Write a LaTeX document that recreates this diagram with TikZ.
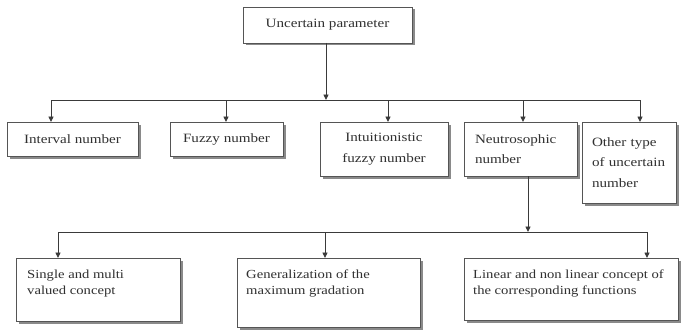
\documentclass[tikz,border=0pt]{standalone}
\usepackage{fontspec}
\setmainfont{Liberation Serif}[FakeStretch=1.19]
\usetikzlibrary{arrows.meta,shadows}
\definecolor{lncol}{HTML}{3A3A3A}
\definecolor{bdcol}{HTML}{555555}
\definecolor{shcol}{HTML}{8A8A8A}
\definecolor{txcol}{HTML}{303030}
\begin{document}
\begin{tikzpicture}[x=1pt,y=-1pt,
  box/.style={draw=bdcol, line width=0.9pt, fill=white, anchor=north west, inner sep=0pt, outer sep=0pt,
    drop shadow={shadow xshift=2.5pt, shadow yshift=-2.5pt, fill=shcol, opacity=1}},
  up/.style={font=\fontsize{12.7}{20.5}\selectfont, text=txcol},
  lo/.style={font=\fontsize{12.3}{15.5}\selectfont, text=txcol, anchor=north west, align=left, inner sep=0pt},
  con/.style={draw=lncol, line width=0.9pt},
  arr/.style={con, -{Triangle[length=5.5pt,width=5pt]}}]
\useasboundingbox[fill=white] (0,0) rectangle (682,329);

% top
\node[box, up, minimum width=169pt, minimum height=36pt] (top) at (243,7) {Uncertain parameter};

% second row
\node[box, up, minimum width=131pt, minimum height=34pt] (int) at (7,122) {Interval number};
\node[box, up, minimum width=113pt, minimum height=34pt] (fuz) at (170,122) {Fuzzy number};
\node[box, up, align=center, minimum width=128pt, minimum height=54pt] (intu) at (320,122) {Intuitionistic\\fuzzy number};
\node[box, up, align=left, text width=91pt, inner xsep=11pt, minimum height=54pt] (neu) at (464,122) {Neutrosophic\\number};
\node[box, up, align=left, text width=74pt, inner xsep=10pt, minimum height=81pt] (oth) at (582,122) {Other type\\of uncertain\\number};

% third row
\node[box, minimum width=164pt, minimum height=63pt] (sin) at (16,258) {};
\node[box, minimum width=183pt, minimum height=69pt] (gen) at (237,258) {};
\node[box, minimum width=214pt, minimum height=62pt] (lin) at (464,258) {};
\node[lo] (sint) at (27,270) {Single and multi\\valued concept};
\node[lo] (gent) at (246,270) {Generalization of the\\maximum gradation};
\node[lo] (lint) at (473,270) {Linear and non linear concept of\\the corresponding functions};

% connectors level 1
\coordinate (j0) at (326,100);
\coordinate (a1) at (51,100);
\coordinate (a2) at (226,100);
\coordinate (a3) at (388,100);
\coordinate (a4) at (523,100);
\coordinate (a5) at (640,100);
\draw[arr] (top.south -| j0) -- (j0);
\draw[con] (a1) -- (a5);
\draw[arr] (a1) -- (a1 |- int.north);
\draw[arr] (a2) -- (a2 |- fuz.north);
\draw[arr] (a3) -- (a3 |- intu.north);
\draw[arr] (a4) -- (a4 |- neu.north);
\draw[arr] (a5) -- (a5 |- oth.north);

% connectors level 2
\coordinate (j2) at (528,232);
\coordinate (b1) at (58,232);
\coordinate (b2) at (325,232);
\coordinate (b3) at (647,232);
\draw[arr] (j2 |- neu.south) -- (j2);
\draw[con] (b1) -- (b3);
\draw[arr] (b1) -- (b1 |- sin.north);
\draw[arr] (b2) -- (b2 |- gen.north);
\draw[arr] (b3) -- (b3 |- lin.north);
\end{tikzpicture}
\end{document}
